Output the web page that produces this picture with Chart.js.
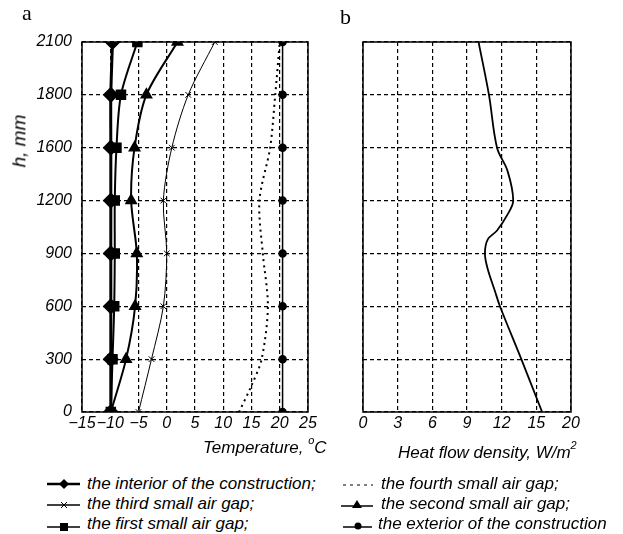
<!DOCTYPE html>
<html>
<head>
<meta charset="utf-8">
<script src="https://cdn.jsdelivr.net/npm/chart.js@4"></script>
<style>
  body { margin: 0; background: #fff; }
  #wrap { position: relative; width: 623px; height: 534px; overflow: hidden; font-family: "Liberation Sans", Arial, sans-serif; color: #000; }
  canvas { position: absolute; top: 0; }
  .lbl { position: absolute; font-style: italic; font-size: 17px; white-space: nowrap; }
  .letter { position: absolute; font-family: "Liberation Serif", "Times New Roman", serif; font-size: 22px; }
  sup { font-size: 11px; vertical-align: 9px; line-height: 0; }
  .leg { position: absolute; font-style: italic; font-size: 17px; white-space: nowrap; height: 20px; line-height: 20px; }
  .leg svg { position: absolute; left: 0; top: 0; }
  .leg span { position: absolute; left: 40px; top: 0; }
</style>
</head>
<body>
<div id="wrap">
  <canvas id="chartA" width="330" height="440" style="left:0"></canvas>
  <canvas id="chartB" width="293" height="440" style="left:330px"></canvas>

  <div class="letter" style="left:22px; top:0px;">a</div>
  <div class="letter" style="left:340px; top:4px;">b</div>
  <div class="lbl" style="left:-7px; top:130px; font-size:19px; transform: rotate(-90deg);">h, mm</div>
  <div class="lbl" style="left:203px; top:438px;">Temperature, <sup>o</sup>C</div>
  <div class="lbl" style="left:398px; top:443px;">Heat flow density, W/m<sup>2</sup></div>

  <div class="leg" style="left:47px; top:474px;">
    <svg width="36" height="20"><line x1="0" y1="10" x2="33" y2="10" stroke="#000" stroke-width="2.5"/><polygon points="17,5 22,10 17,15 12,10" fill="#000"/></svg>
    <span>the interior of the construction;</span></div>
  <div class="leg" style="left:47px; top:494px;">
    <svg width="36" height="20"><line x1="0" y1="11" x2="33" y2="11" stroke="#000" stroke-width="1.5"/><path d="M14 8 L20 14 M20 8 L14 14" stroke="#000" stroke-width="1"/></svg>
    <span>the third small air gap;</span></div>
  <div class="leg" style="left:47px; top:514px;">
    <svg width="36" height="20"><line x1="0" y1="13" x2="33" y2="13" stroke="#000" stroke-width="1.5"/><rect x="13" y="9" width="8" height="8" fill="#000"/></svg>
    <span>the first small air gap;</span></div>
  <div class="leg" style="left:341px; top:474px;">
    <svg width="36" height="20"><line x1="2" y1="11" x2="32" y2="11" stroke="#000" stroke-width="1" stroke-dasharray="3,4"/></svg>
    <span>the fourth small air gap;</span></div>
  <div class="leg" style="left:341px; top:494px;">
    <svg width="36" height="20"><line x1="0" y1="12" x2="32" y2="12" stroke="#000" stroke-width="1.5"/><polygon points="16,6 21,14 11,14" fill="#000"/></svg>
    <span>the second small air gap;</span></div>
  <div class="leg" style="left:341px; top:514px;">
    <svg width="36" height="20"><line x1="2" y1="13" x2="31" y2="13" stroke="#000" stroke-width="1.5"/><circle cx="17" cy="12" r="3.5" fill="#000"/></svg>
    <span style="left:37px">the exterior of the construction</span></div>
</div>

<script>
// heights (mm) of the measuring points; the 6th gridline is labelled 1600 in the source
const heights = [0, 300, 600, 900, 1200, 1500, 1800, 2100];
const hLabels = ['0', '300', '600', '900', '1200', '1600', '1800', '2100'];

// temperatures, °C
const interior  = [-9.9, -9.9, -9.9, -9.9, -9.9, -9.9, -9.9, -9.6];
const firstGap  = [-9.9, -9.6, -9.3, -9.2, -9.2, -8.9, -8.1, -5.2];
const secondGap = [-9.9, -7.2, -5.6, -5.3, -6.3, -5.7, -3.6, 1.9];
const thirdGap  = [-5.0, -2.7, -0.6, 0.0, -0.6, 0.9, 3.8, 8.5];
const exterior  = [20.5, 20.5, 20.5, 20.5, 20.5, 20.5, 20.5, 20.5];
const fourthH   = [0, 150, 300, 600, 900, 1200, 1500, 1800, 2100];
const fourthGap = [12.8, 15.0, 16.8, 17.9, 17.0, 16.4, 18.3, 19.2, 20.0];
const tempLabels = ['\u221215', '\u221210', '\u22125', '0', '5', '10', '15', '20', '25'];

// heat flow density, W/m2
const qHeights = [0, 300, 600, 690, 810, 900, 980, 1030, 1120, 1200, 1370, 1500, 1800, 2100];
const qValues  = [15.5, 13.7, 11.85, 11.4, 10.8, 10.55, 10.8, 11.6, 12.5, 13.0, 12.5, 11.6, 10.9, 10.0];
const qLabels  = ['0', '3', '6', '9', '12', '15', '20'];

const tickFont = { family: 'Liberation Sans, Arial, sans-serif', size: 16, style: 'italic' };

function pts(xs, ys) {
  return xs.map((x, i) => ({ x: x, y: ys[i] }));
}

const frame = {
  id: 'frame',
  beforeDatasetsDraw(chart) {
    const a = chart.chartArea;
    const ctx = chart.ctx;
    ctx.save();
    ctx.strokeStyle = '#000';
    ctx.lineWidth = 1.5;
    ctx.strokeRect(a.left, a.top, a.right - a.left, a.bottom - a.top);
    ctx.restore();
  }
};

function yScale(width, showLabels) {
  return {
    type: 'linear', min: 0, max: 2100,
    afterFit: s => { s.width = width; },
    ticks: {
      display: showLabels, stepSize: 300, color: '#000', font: tickFont, padding: 10,
      callback: (v, i) => hLabels[i]
    },
    grid: { color: '#000', lineWidth: 1.2, drawTicks: false },
    border: { display: false, dash: [4, 3] }
  };
}

function xScale(min, max, step, labels) {
  return {
    type: 'linear', min: min, max: max,
    afterFit: s => { s.height = 28; },
    ticks: {
      stepSize: step, color: '#000', font: tickFont, padding: 2, maxRotation: 0, autoSkip: false,
      callback: (v, i) => labels[i]
    },
    grid: { color: '#000', lineWidth: 1.2, drawTicks: false },
    border: { display: false, dash: [4, 3] }
  };
}

const common = {
  responsive: false,
  animation: false,
  devicePixelRatio: 1,
  plugins: { legend: { display: false }, tooltip: { enabled: false } }
};

new Chart(document.getElementById('chartA'), {
  type: 'line',
  data: {
    datasets: [
      { label: 'the interior of the construction', data: pts(interior, heights),
        borderColor: '#000', backgroundColor: '#000', borderWidth: 3,
        pointStyle: 'rectRot', pointRadius: 6, tension: 0.3 },
      { label: 'the first small air gap', data: pts(firstGap, heights),
        borderColor: '#000', backgroundColor: '#000', borderWidth: 2,
        pointStyle: 'rect', pointRadius: 6, tension: 0.3 },
      { label: 'the second small air gap', data: pts(secondGap, heights),
        borderColor: '#000', backgroundColor: '#000', borderWidth: 2,
        pointStyle: 'triangle', pointRadius: 5.5, tension: 0.3 },
      { label: 'the third small air gap', data: pts(thirdGap, heights),
        borderColor: '#000', backgroundColor: '#000', borderWidth: 1,
        pointStyle: 'crossRot', pointRadius: 4, pointBorderWidth: 1, tension: 0.3 },
      { label: 'the fourth small air gap', data: pts(fourthGap, fourthH),
        borderColor: '#000', borderWidth: 2, borderDash: [2, 4],
        pointRadius: 0, tension: 0.3 },
      { label: 'the exterior of the construction', data: pts(exterior, heights),
        borderColor: '#000', backgroundColor: '#000', borderWidth: 1.5,
        pointStyle: 'circle', pointRadius: 3.5, tension: 0 }
    ]
  },
  options: Object.assign({}, common, {
    layout: { padding: { left: 0, right: 22, top: 42, bottom: 0 } },
    scales: {
      x: xScale(-15, 25, 5, tempLabels),
      y: yScale(82, true)
    }
  }),
  plugins: [frame]
});

new Chart(document.getElementById('chartB'), {
  type: 'line',
  data: {
    datasets: [
      { label: 'heat flow density', data: pts(qValues, qHeights),
        borderColor: '#000', borderWidth: 1.8, pointRadius: 0, tension: 0.35 }
    ]
  },
  options: Object.assign({}, common, {
    layout: { padding: { left: 33, right: 52, top: 42, bottom: 0 } },
    scales: {
      x: xScale(0, 18, 3, qLabels),
      y: yScale(0, false)
    }
  }),
  plugins: [frame]
});
</script>
</body>
</html>
